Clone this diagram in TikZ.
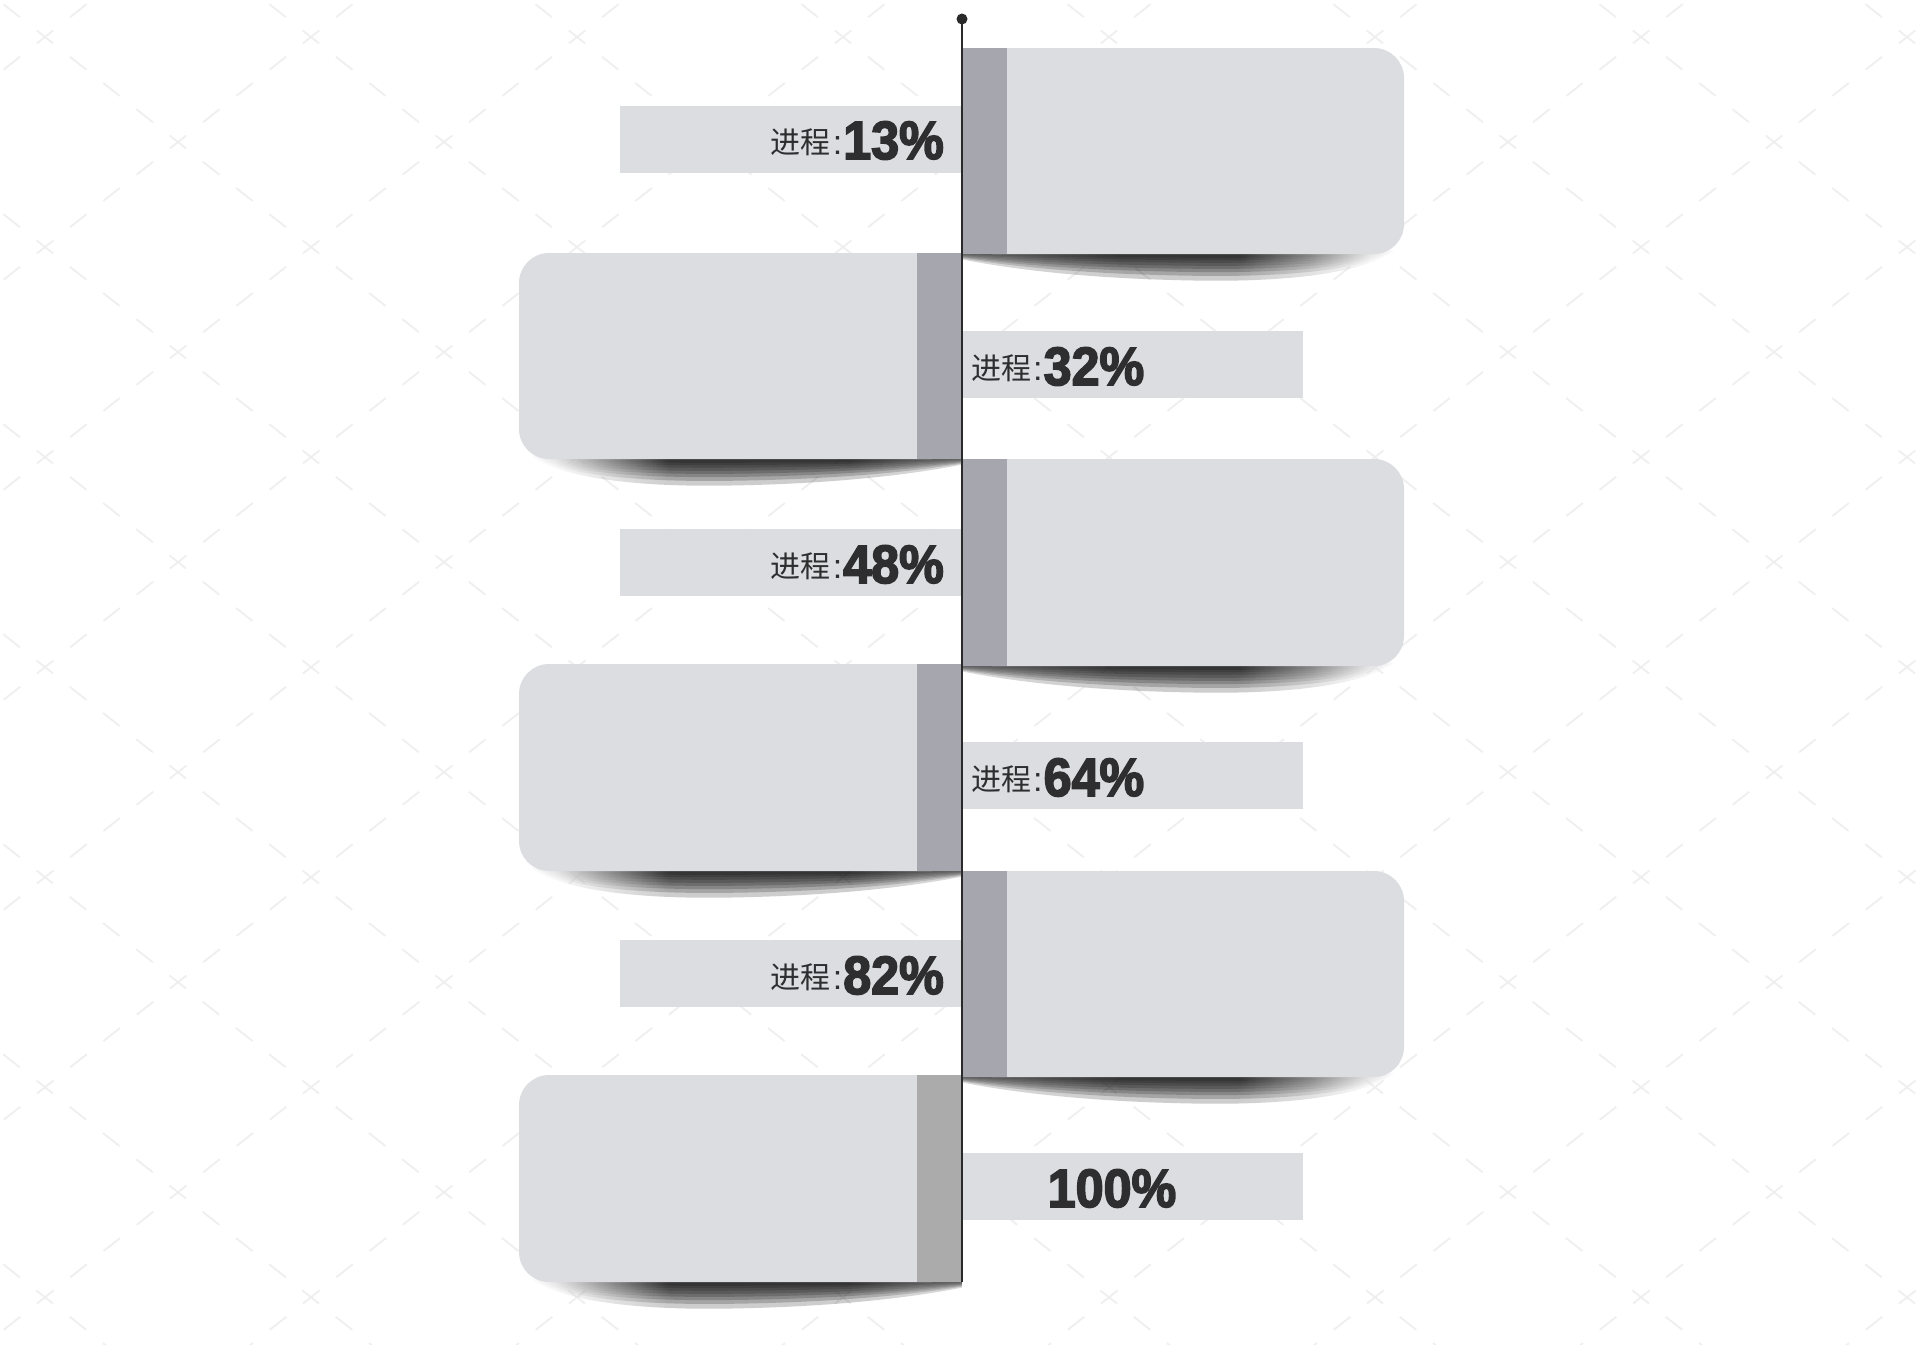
\documentclass[tikz,border=0pt]{standalone}
\usepackage{fontspec}
\newfontfamily\cjkfont{Noto Sans CJK SC}
\newfontfamily\numfont{Liberation Sans}[FakeStretch=0.93,BoldFeatures={FakeBold=3}]
\newfontfamily\colonfont{Liberation Sans}
\newcommand\myCJ{\cjkfont\fontsize{30}{30}\selectfont}
\newcommand\myNum{\numfont\bfseries\fontsize{54}{54}\selectfont}
\newcommand\myColon{\colonfont\fontsize{34}{34}\selectfont}
\newcommand\progLabel[1]{\raisebox{6pt}{\myCJ 进程}\hspace{2pt}\raisebox{5pt}{\myColon :}\hspace{1pt}{\myNum #1}}
\definecolor{boxgray}{HTML}{DCDDE1}
\definecolor{stripgray}{HTML}{A6A7AE}
\definecolor{stripgrayB}{HTML}{ABABAB}
\definecolor{txtc}{HTML}{2E2E30}
\definecolor{linec}{HTML}{2A2A2A}
\definecolor{patc}{HTML}{EFEFEF}
\pgfdeclarehorizontalshading{shR}{100bp}{color(0bp)=(black!70); color(25bp)=(black!70); color(30bp)=(black!75); color(43bp)=(black!92); color(57bp)=(black!92); color(65bp)=(black!55); color(72bp)=(black!12); color(75bp)=(white); color(100bp)=(white)}
\pgfdeclarehorizontalshading{shL}{100bp}{color(0bp)=(white); color(25bp)=(white); color(28bp)=(black!12); color(35bp)=(black!55); color(41bp)=(black!92); color(62bp)=(black!92); color(70bp)=(black!75); color(75bp)=(black!70); color(100bp)=(black!70)}
\tikzset{
  patline/.style={draw=patc, line width=1.8pt, dash pattern=on 21pt off 21.36pt, dash phase=3.3pt},
  labbox/.style={fill=boxgray, inner sep=0pt, minimum height=67pt},
  txtnode/.style={text=txtc, inner sep=0pt},
  shadowR/.style={shading=shR, opacity=0.21},
  shadowL/.style={shading=shL, opacity=0.21}
}
% right box: #1 top, #2 bottom
\newcommand\rightBox[2]{%
  \foreach \s in {1.4,1.15,0.95,0.78,0.62,0.46,0.32,0.2}{
    \shade[shadowR] (963,#2-4) -- (1395,#2-4) .. controls (1368,#2+12*\s) and (1300,#2+20*\s) .. (1200,#2+19*\s) .. controls (1100,#2+18*\s) and (1020,#2+12*\s) .. (963,#2+4*\s) -- cycle;
  }
  \fill[boxgray, rounded corners=30pt] (962,#1) rectangle (1404,#2);
  \fill[boxgray] (962,#1) rectangle (1150,#2);
  \fill[stripgray] (962,#1) rectangle (1007,#2);
}
% left box: #1 top, #2 bottom, #3 strip colour
\newcommand\leftBox[3]{%
  \foreach \s in {1.4,1.15,0.95,0.78,0.62,0.46,0.32,0.2}{
    \shade[shadowL] (962,#2-4) -- (530,#2-4) .. controls (557,#2+12*\s) and (625,#2+20*\s) .. (725,#2+19*\s) .. controls (825,#2+18*\s) and (905,#2+12*\s) .. (962,#2+4*\s) -- cycle;
  }
  \fill[boxgray, rounded corners=30pt] (519,#1) rectangle (962,#2);
  \fill[boxgray] (760,#1) rectangle (962,#2);
  \fill[#3] (917,#1) rectangle (962,#2);
}
\begin{document}
\begin{tikzpicture}[x=1pt,y=-1pt]
\useasboundingbox (0,0) rectangle (1926,1344);
\fill[white] (0,0) rectangle (1926,1344);
% background lattice
\begin{scope}
\clip (0,0) rectangle (1926,1344);
\foreach \m in {-8,...,14}{
  \draw[patline] ({178+266*\m-205.2},-20) -- ++(1773,1400);
  \draw[patline] ({178+266*\m+205.2},-20) -- ++(-1773,1400);
}
\end{scope}
% boxes
\rightBox{48}{254}
\leftBox{253}{459}{stripgray}
\rightBox{459}{666}
\leftBox{664}{871}{stripgray}
\rightBox{871}{1077}
\leftBox{1075}{1282}{stripgrayB}
% label bars
\node[labbox, minimum width=342pt, anchor=north east] (l1) at (962,106) {};
\node[labbox, minimum width=341pt, anchor=north west] (l2) at (962,331) {};
\node[labbox, minimum width=342pt, anchor=north east] (l3) at (962,529) {};
\node[labbox, minimum width=341pt, anchor=north west] (l4) at (962,742) {};
\node[labbox, minimum width=342pt, anchor=north east] (l5) at (962,940) {};
\node[labbox, minimum width=341pt, anchor=north west] (l6) at (962,1153) {};
% label texts
\node[txtnode, anchor=base east] (t1) at (944,159) {\progLabel{13\%}};
\node[txtnode, anchor=base west] (t2) at (971,385) {\progLabel{32\%}};
\node[txtnode, anchor=base east] (t3) at (944,583) {\progLabel{48\%}};
\node[txtnode, anchor=base west] (t4) at (971,796) {\progLabel{64\%}};
\node[txtnode, anchor=base east] (t5) at (944,994) {\progLabel{82\%}};
\node[txtnode, anchor=base] (t6) at (1112,1207) {\myNum 100\%};
% timeline
\node[circle, fill=linec, inner sep=0pt, minimum size=11pt] (dot) at (962,19) {};
\coordinate (bot) at (962,1282);
\draw[linec, line width=1.8pt] (dot.center) -- (bot);
\end{tikzpicture}
\end{document}
